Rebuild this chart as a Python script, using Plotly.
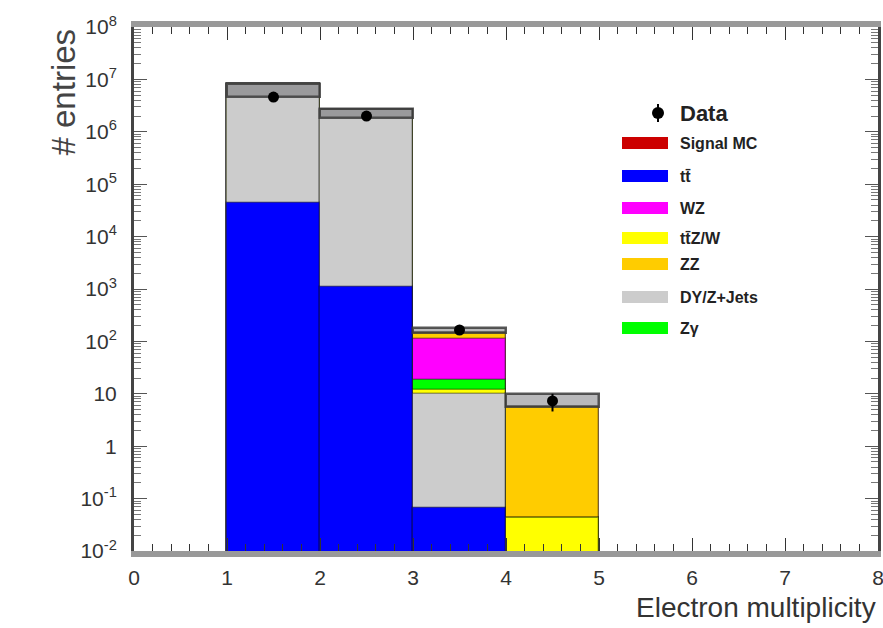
import numpy as np
import plotly.graph_objects as go

# ---------------- data ----------------
bin_centers = [1.5, 2.5, 3.5, 4.5]
ttbar     = [4.4e4, 1.1e3, 0.066, 0.0]
dy_jets   = [8.1e6, 2.6e6, 9.9, 0.0]
ttzw      = [0.0, 0.0, 2.0, 0.043]
zgamma    = [0.0, 0.0, 6.0, 0.0]
wz        = [0.0, 0.0, 94.0, 0.0]
zz        = [0.0, 0.0, 30.0, 5.6]
signal_mc = [0.0, 0.0, 0.0, 0.0]
unc_lo    = [4.6e6, 1.8e6, 142.0, 5.6]
unc_hi    = [8.1e6, 2.7e6, 180.0, 9.8]
data      = [4.6e6, 2.0e6, 165.0, 7.3]
data_err  = [2140.0, 1420.0, 13.0, 2.7]

y_tickvals = [1e-2, 1e-1, 1, 10, 1e2, 1e3, 1e4, 1e5, 1e6, 1e7, 1e8]
y_ticktext = ["10<sup>-2</sup>", "10<sup>-1</sup>", "1", "10", "10<sup>2</sup>",
              "10<sup>3</sup>", "10<sup>4</sup>", "10<sup>5</sup>", "10<sup>6</sup>",
              "10<sup>7</sup>", "10<sup>8</sup>"]

# stack order bottom -> top
stack = [
    ("tt\u0304", ttbar, "#0000ff"),
    ("DY/Z+Jets", dy_jets, "#cccccc"),
    ("tt\u0304Z/W", ttzw, "#ffff00"),
    ("Z\u03b3", zgamma, "#00ff00"),
    ("WZ", wz, "#ff00ff"),
    ("ZZ", zz, "#ffcc00"),
    ("Signal MC", signal_mc, "#cc0000"),
]

legend_labels = ["Signal MC", "tt\u0304", "WZ", "tt\u0304Z/W", "ZZ", "DY/Z+Jets", "Z\u03b3"]
legend_colors = ["#cc0000", "#0000ff", "#ff00ff", "#ffff00", "#ffcc00", "#cccccc", "#00ff00"]

FONT = "Liberation Sans, Arial, Helvetica, sans-serif"

fig = go.Figure()

cum = np.cumsum(np.array([s[1] for s in stack]), axis=0)
# draw top-most cumulative first so lower layers overlay it
for i in reversed(range(len(stack))):
    name, vals, col = stack[i]
    tops = [float(v) if v > 0 else None for v in cum[i]]
    fig.add_trace(go.Bar(
        x=bin_centers, y=tops, width=1.0, name=name,
        marker=dict(color=col, line=dict(color="rgba(0,0,0,0.35)", width=1.5)),
        showlegend=False,
    ))

# MC uncertainty band
fig.add_trace(go.Bar(
    x=bin_centers,
    y=[h - l for h, l in zip(unc_hi, unc_lo)],
    base=unc_lo, width=1.0,
    marker=dict(color="rgba(80,80,85,0.4)", line=dict(color="rgba(60,60,60,0.85)", width=2.5)),
    showlegend=False,
))

# data points
fig.add_trace(go.Scatter(
    x=bin_centers, y=data, mode="markers",
    marker=dict(color="black", size=11),
    error_y=dict(type="data", array=data_err, color="black", thickness=2, width=0),
    showlegend=False,
))

# ---------------- layout ----------------
L, R, T, B = 134, 5, 27, 77
W, H = 883, 628
pw, ph = W - L - R, H - T - B

def px(xp):
    return (xp - L) / pw

def py(yp):
    return (H - B - yp) / ph

fig.update_layout(
    width=W, height=H,
    margin=dict(l=L, r=R, t=T, b=B, pad=0, autoexpand=False),
    paper_bgcolor="white", plot_bgcolor="white",
    barmode="overlay", bargap=0,
    font=dict(family=FONT, color="#333"),
    xaxis=dict(
        range=[0, 8], dtick=1, tick0=0, showgrid=False, zeroline=False, automargin=False,
        ticks="inside", ticklen=13, tickwidth=1, tickcolor="#333",
        showline=True, linewidth=6, linecolor="#999", mirror="ticks",
        tickfont=dict(size=21, color="#333", family=FONT),
        ticklabelstandoff=3, ticklabeloverflow="allow",
        minor=dict(ticks="inside", ticklen=7, dtick=0.2, tickcolor="#333", tickwidth=1, showgrid=False),
    ),
    yaxis=dict(
        type="log", range=[-2, 8], showgrid=False, zeroline=False, automargin=False,
        tickmode="array", tickvals=y_tickvals, ticktext=y_ticktext,
        ticks="inside", ticklen=13, tickwidth=1, tickcolor="#555",
        showline=True, linewidth=3, linecolor="#444", mirror="ticks",
        tickfont=dict(size=21, color="#333", family=FONT),
        ticklabelstandoff=10, ticklabeloverflow="allow",
        minor=dict(ticks="inside", ticklen=7, dtick="D1", tickcolor="#777", tickwidth=1, showgrid=False),
    ),
)

annotations = [
    dict(text="Electron multiplicity", xref="paper", yref="paper",
         x=1.0, y=py(607), xanchor="right", yanchor="middle", showarrow=False,
         font=dict(size=28, color="#333", family=FONT)),
    dict(text="# entries", xref="paper", yref="paper",
         x=px(63), y=py(27), xanchor="center", yanchor="top", textangle=-90, showarrow=False,
         font=dict(size=33, color="#444", family=FONT)),
    dict(text="<b>Data</b>", xref="paper", yref="paper",
         x=px(678), y=py(113), xanchor="left", yanchor="middle", showarrow=False,
         font=dict(size=22, color="#222", family=FONT)),
]
shapes = [
    dict(type="circle", xref="paper", yref="paper", xsizemode="pixel", ysizemode="pixel",
         xanchor=px(658), yanchor=py(113), x0=-6, x1=6, y0=-6, y1=6,
         fillcolor="black", line=dict(color="black", width=0)),
    dict(type="line", xref="paper", yref="paper", xsizemode="pixel", ysizemode="pixel",
         xanchor=px(658), yanchor=py(113), x0=0, x1=0, y0=-9, y1=9,
         line=dict(color="black", width=2)),
]

row_y = [143, 176, 208, 238, 264, 297, 328]
for lab, col, ry in zip(legend_labels, legend_colors, row_y):
    shapes.append(dict(type="rect", xref="paper", yref="paper",
                       x0=px(622), x1=px(668), y0=py(ry + 6), y1=py(ry - 6),
                       fillcolor=col, line=dict(width=0)))
    annotations.append(dict(text="<b>" + lab + "</b>", xref="paper", yref="paper",
                            x=px(678), y=py(ry), xanchor="left", yanchor="middle",
                            showarrow=False, font=dict(size=16, color="#222", family=FONT)))

fig.update_layout(annotations=annotations, shapes=shapes)

fig.write_html("out.html")
